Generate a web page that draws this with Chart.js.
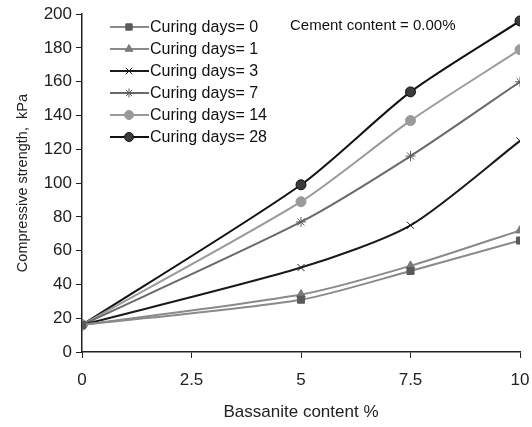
<!DOCTYPE html>
<html>
<head>
<meta charset="utf-8">
<script src="https://cdn.jsdelivr.net/npm/chart.js@4/dist/chart.umd.min.js"></script>
<style>
  html, body { margin: 0; padding: 0; background: #fff; }
  #wrap { width: 532px; height: 427px; }
</style>
</head>
<body>
<div id="wrap"><canvas id="chartStrength"></canvas></div>
<script>
(() => {

  let bassanite = [0, 2.5, 5, 7.5, 10];
  let xTicks = [0, 2.5, 5, 7.5, 10];
  let names = ['Curing days= 0', 'Curing days= 1', 'Curing days= 3', 'Curing days= 7', 'Curing days= 14', 'Curing days= 28'];
  // no measurement at 2.5 % -> null
  let day0 = [16, null, 31, 48, 66];
  let day1 = [16, null, 34, 51, 72];
  let day3 = [16, null, 50, 75, 125];
  let day7 = [16, null, 77, 116, 160];
  let day14 = [16, null, 89, 137, 179];
  let day28 = [16, null, 99, 154, 196];
  let noteText = 'Cement content = 0.00%';

  const font = "'Liberation Sans', Arial, sans-serif";
  const series = [day0, day1, day3, day7, day14, day28];
  const lineColors = ['#8a8a8a', '#8a8a8a', '#1a1a1a', '#6a6a6a', '#9a9a9a', '#111111'];
  const markerFill = ['#5a5a5a', '#7a7a7a', '#1a1a1a', '#5a5a5a', '#9a9a9a', '#3a3a3a'];
  const styles = ['rect', 'triangle', 'cross', 'star', 'circle', 'circle'];

  const datasets = series.map((vals, i) => ({
    label: names[i],
    data: bassanite.map((x, k) => ({ x: x, y: vals[k] })).filter(p => p.y !== null),
    borderColor: lineColors[i],
    backgroundColor: markerFill[i],
    pointBorderColor: i === 5 ? '#111' : markerFill[i],
    pointStyle: styles[i],
    pointRotation: styles[i] === 'cross' ? 45 : 0,
    pointRadius: 5,
    pointBorderWidth: 1,
    borderWidth: 2,
    tension: 0.25,
    fill: false
  }));

  const legendPlugin = {
    id: 'insideLegend',
    afterDraw(chart) {
      const c = chart.ctx;
      c.save();
      chart.data.datasets.forEach((ds, i) => {
        const y = 27 + i * 22;
        c.strokeStyle = ds.borderColor;
        c.lineWidth = 2;
        c.beginPath();
        c.moveTo(110, y);
        c.lineTo(149, y);
        c.stroke();
        c.fillStyle = ds.backgroundColor;
        c.strokeStyle = ds.pointBorderColor;
        c.lineWidth = 1;
        Chart.helpers.drawPoint(c, { pointStyle: ds.pointStyle, radius: 4.5, borderWidth: 1, rotation: ds.pointRotation }, 129, y);
        c.fillStyle = '#111';
        c.font = '16px ' + font;
        c.textBaseline = 'middle';
        c.textAlign = 'left';
        c.fillText(ds.label, 150, y + 1);
      });
      c.font = '15px ' + font;
      c.fillText(noteText, 290, 26);
      c.restore();
    }
  };

  new Chart(document.getElementById('chartStrength').getContext('2d'), {
    type: 'line',
    data: { datasets: datasets },
    plugins: [legendPlugin],
    options: {
      responsive: true,
      maintainAspectRatio: false,
      animation: false,
      layout: { padding: { top: 12, right: 0, left: 0, bottom: 0 } },
      plugins: {
        legend: { display: false },
        tooltip: { enabled: false }
      },
      scales: {
        x: {
          type: 'linear',
          min: 0,
          max: 10,
          afterBuildTicks: (scale) => { scale.ticks = xTicks.map(v => ({ value: v })); },
          afterFit: (scale) => { scale.height = 75; scale.paddingRight = 12; },
          border: { color: '#222', width: 1.5 },
          grid: { drawOnChartArea: false, drawTicks: true, tickLength: 6, color: '#222' },
          ticks: { color: '#222', font: { family: font, size: 17 }, padding: 12 },
          title: { display: true, text: 'Bassanite content %', color: '#222', font: { family: font, size: 17 }, padding: { top: 10 } }
        },
        y: {
          min: 0,
          max: 200,
          afterFit: (scale) => { scale.width = 82; },
          border: { color: '#222', width: 1.5 },
          grid: { drawOnChartArea: false, drawTicks: true, tickLength: 6, color: '#222' },
          ticks: { stepSize: 20, color: '#222', font: { family: font, size: 17 }, padding: 4 },
          title: { display: true, text: 'Compressive strength,  kPa', color: '#222', font: { family: font, size: 14.5 }, padding: { top: 14, bottom: 0 } }
        }
      }
    }
  });

})();
</script>
</body>
</html>
